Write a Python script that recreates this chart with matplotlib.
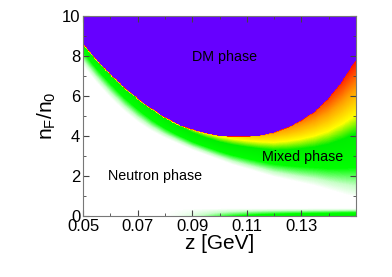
import numpy as np
import matplotlib
matplotlib.use('Agg')
import matplotlib.pyplot as plt
from matplotlib.colors import LinearSegmentedColormap
from matplotlib.ticker import MultipleLocator

plt.rcParams['font.family'] = ['Liberation Sans', 'DejaVu Sans']

# boundaries
z_pts = [0.05, 0.055, 0.06, 0.065, 0.07, 0.075, 0.08, 0.085, 0.09, 0.095, 0.10,
         0.105, 0.11, 0.115, 0.12, 0.125, 0.13, 0.135, 0.14, 0.145, 0.15]
# DM phase onset
n_dm = [8.55, 7.75, 7.05, 6.4, 5.85, 5.35, 4.9, 4.55, 4.3, 4.12, 4.0,
        3.95, 3.95, 4.02, 4.15, 4.4, 4.75, 5.2, 5.85, 6.7, 7.8]
# pure neutron phase below
n_neutron = [7.5, 6.65, 5.9, 5.25, 4.7, 4.25, 3.9, 3.6, 3.3, 3.05, 2.8,
             2.55, 2.35, 2.15, 1.95, 1.8, 1.65, 1.5, 1.3, 1.1, 0.9]
dm_frac_edge = [0.33, 0.34, 0.35, 0.37, 0.39, 0.42, 0.45, 0.48, 0.52, 0.56, 0.60,
                0.63, 0.66, 0.70, 0.74, 0.78, 0.82, 0.86, 0.90, 0.93, 0.97]
bottom_strip = [0.0, 0.0, 0.0, 0.0, 0.0, 0.0, 0.0, 0.02, 0.05, 0.10, 0.15,
                0.19, 0.22, 0.25, 0.27, 0.29, 0.30, 0.32, 0.33, 0.35, 0.36]

labels = [('DM phase', 0.102, 7.95), ('Mixed phase', 0.1305, 2.95),
          ('Neutron phase', 0.0765, 2.0)]

zz = np.linspace(0.05, 0.15, 220)
nn = np.linspace(0, 10, 220)
Z, N = np.meshgrid(zz, nn)
up = np.interp(Z, z_pts, n_dm)
lo = np.interp(Z, z_pts, n_neutron)
pk = np.interp(Z, z_pts, dm_frac_edge)
bs = np.interp(Z, z_pts, bottom_strip)
t = np.clip((N - lo) / (up - lo), 0, 1)
val = pk * t
val = np.maximum(val, bs * np.clip(1 - N / 0.35, 0, 1))
val[N >= up] = 1.0

cmap = LinearSegmentedColormap.from_list('phase', [
    (0.0, '#ffffff'), (0.08, '#c8ffc8'), (0.21, '#00ff00'), (0.45, '#00ee00'),
    (0.58, '#ffff00'), (0.76, '#ffa000'), (0.97, '#ff1000'), (0.985, '#6600ff'),
    (1.0, '#6600ff')])

fig = plt.figure(figsize=(3.92, 2.77), dpi=100)
ax = fig.add_axes([0.212, 0.22, 0.696, 0.722])
ax.imshow(val, origin='lower', extent=[0.05, 0.15, 0, 10], aspect='auto',
          cmap=cmap, vmin=0, vmax=1, interpolation='bilinear',
          interpolation_stage='data')

for s, x, y in labels:
    ax.text(x, y, s, ha='center', va='center', fontsize=10.3)

ax.set_xlim(0.05, 0.15)
ax.set_ylim(0, 10)
ax.set_xticks([0.05, 0.07, 0.09, 0.11, 0.13])
ax.set_xticklabels(['0.05', '0.07', '0.09', '0.11', '0.13'])
ax.xaxis.set_minor_locator(MultipleLocator(0.01))
ax.yaxis.set_major_locator(MultipleLocator(2))
ax.yaxis.set_minor_locator(MultipleLocator(1))
ax.tick_params(which='both', direction='in', top=True, right=True,
               labelsize=12, color='#444444')
ax.tick_params(which='major', length=4, pad=2)
ax.tick_params(which='minor', length=2)
for sp in ax.spines.values():
    sp.set_color('#777777')
    sp.set_linewidth(0.8)
ax.set_xlabel('z [GeV]', fontsize=15, labelpad=0)
ax.set_ylabel(r'n$_\mathregular{F}$/n$_\mathregular{0}$', fontsize=15, labelpad=3)

fig.savefig('out.png', dpi=100)
